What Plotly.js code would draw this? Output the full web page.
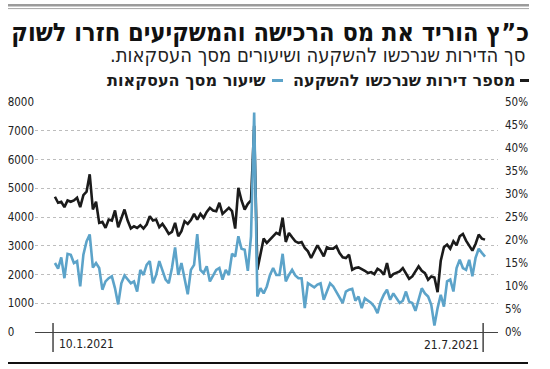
<!DOCTYPE html>
<html><head><meta charset="utf-8">
<script src="https://cdn.plot.ly/plotly-3.0.1.min.js"></script>
<style>html,body{margin:0;padding:0;background:#fff}#chart{width:550px;height:369px}</style>
</head><body><div id="chart"></div>
<script>
const titleText = "כ”ץ הוריד את מס הרכישה והמשקיעים חזרו לשוק";
const subtitleText = "סך הדירות שנרכשו להשקעה ושיעורים מסך העסקאות.\u200F";
const seriesNames = ["מספר דירות שנרכשו להשקעה", "שיעור מסך העסקאות"];
const dateLabels = ["10.1.2021", "21.7.2021"];
const leftTicks = [0, 1000, 2000, 3000, 4000, 5000, 6000, 7000, 8000];
const rightTicks = [0, 5, 10, 15, 20, 25, 30, 35, 40, 45, 50];

// number of apartments bought for investment (left axis)
const apartments = [4704, 4494, 4529, 4343, 4576, 4529, 4576, 4669, 4343, 4762, 4878, 5484, 4261, 4529, 3795, 3830,
  3621, 3912, 3877, 4226, 3644, 3970, 4261, 3877, 3598, 3679, 3621, 3714, 3598, 3737, 4028, 3877, 3912, 3644, 3760,
  3598, 3411, 3481, 3795, 3330, 3505, 3853, 3760, 3895, 4110, 3912, 4110, 3970, 4179, 4319, 4226, 4203, 4494, 4110,
  4226, 4319, 4203, 3598, 5018, 4576, 4261, 4459, 4576, 7172,
  2166, 2700, 3248, 3097, 3213, 3365, 3446, 3388, 3970, 3132, 3446, 3295, 3155, 3097, 3132, 2922, 2806, 2573, 2806,
  3016, 2829, 2631, 2946, 2899, 2899, 2980, 2748, 2596, 2573, 2690, 2166, 2224, 2247, 2201, 2131, 2049, 2084, 2014,
  2201, 2131, 1991, 2398, 1898, 2014, 2049, 2108, 2224, 2014, 1851, 1933, 2108, 2282, 2131, 2049, 1816, 1933, 1898,
  1385, 2480, 2946, 3039, 2899, 3155, 3016, 3330, 3411, 3178, 2980, 2829, 3062, 3388, 3248, 3213];

// share of all transactions, % (right axis)
const share = [15.0, 13.8, 16.2, 11.7, 17.0, 16.8, 15.0, 15.4, 9.9, 16.8, 19.7, 21.2, 14.0, 15.0, 13.9, 9.2, 11.0,
  11.7, 12.1, 9.5, 6.0, 10.6, 12.3, 11.4, 10.6, 11.0, 8.8, 13.5, 12.4, 14.6, 15.4, 10.6, 12.4, 15.4, 13.2, 11.4, 10.6,
  13.9, 18.4, 12.4, 15.0, 11.4, 8.2, 13.5, 14.6, 21.3, 13.5, 12.8, 14.3, 11.0, 12.1, 13.5, 13.9, 11.4, 13.5, 12.4,
  17.0, 16.4, 20.8, 18.1, 17.9, 13.3, 20.8, 47.7,
  7.7, 9.5, 8.4, 9.9, 12.4, 13.9, 12.4, 12.4, 17.0, 11.0, 12.4, 13.5, 12.3, 11.7, 11.7, 5.2, 10.6, 10.1, 9.7, 10.3,
  10.6, 7.0, 8.8, 10.6, 9.9, 8.8, 7.7, 6.3, 8.8, 9.2, 9.4, 6.8, 7.7, 5.2, 7.3, 6.8, 6.3, 5.5, 4.1, 6.6, 8.1, 9.2, 7.0,
  8.4, 7.3, 6.3, 6.8, 8.8, 6.6, 6.3, 4.6, 7.3, 9.5, 8.4, 7.7, 5.9, 1.4, 5.2, 8.1, 5.5, 11.0, 11.4, 8.8, 13.9, 15.7,
  13.9, 13.5, 15.7, 12.1, 16.1, 18.1, 17.2, 16.4];

const FONT = "'DejaVu Sans Condensed', 'Liberation Sans Narrow', Roboto, sans-serif";
const FONT_WIDE = "'DejaVu Sans', 'Liberation Sans', sans-serif";

// pick a font size so that a text fills a given width
const ctx = document.createElement('canvas').getContext('2d');
function fitSize(text, family, weight, target, lo, hi) {
  ctx.font = weight + ' 100px ' + family;
  const s = 100 * target / ctx.measureText(text).width;
  return Math.max(lo, Math.min(hi, s));
}
const titleSize = fitSize(titleText, FONT, 'bold', 518, 20, 30);
const subSize = fitSize(subtitleText, FONT, 'normal', 430, 14, 20);
const leg1Size = fitSize(seriesNames[0], FONT_WIDE, 'bold', 229, 12, 17);
const leg2Size = fitSize(seriesNames[1], FONT_WIDE, 'bold', 154, 12, 17);
const legSize = (leg1Size + leg2Size) / 2;

const N = apartments.length;
const idx = apartments.map((_, i) => i);
const xRange = [-6.3, N - 1 + 4.1];
const tickIdx = [-0.6, N - 1 - 0.6];
const toPaper = v => (v - xRange[0]) / (xRange[1] - xRange[0]);

const traces = [
  {x: idx, y: share, yaxis: 'y2', type: 'scatter', mode: 'lines', name: seriesNames[1],
   line: {color: '#5ca3c9', width: 2.6}, hoverinfo: 'skip'},
  {x: idx, y: apartments, yaxis: 'y', type: 'scatter', mode: 'lines', name: seriesNames[0],
   line: {color: '#1b1b1b', width: 2.6}, hoverinfo: 'skip'}
];

const PX = p => (p - 35) / 463;       // page x -> paper x
const PY = p => (332 - p) / 230;      // page y -> paper y

const shapes = [
  {type: 'line', xref: 'paper', yref: 'paper', x0: PX(8), x1: PX(529), y0: PY(5.2), y1: PY(5.2), line: {color: '#9b9b9b', width: 2.6}},
  {type: 'line', xref: 'paper', yref: 'paper', x0: PX(8), x1: PX(529), y0: PY(8.6), y1: PY(8.6), line: {color: '#a5a5a5', width: 1}},
  {type: 'line', xref: 'paper', yref: 'paper', x0: PX(8), x1: PX(528), y0: PY(363), y1: PY(363), line: {color: '#111', width: 2}},
  {type: 'line', xref: 'paper', yref: 'paper', x0: PX(520), x1: PX(529), y0: PY(80.5), y1: PY(80.5), line: {color: '#1b1b1b', width: 3}},
  {type: 'line', xref: 'paper', yref: 'paper', x0: PX(272), x1: PX(283), y0: PY(80.5), y1: PY(80.5), line: {color: '#5ca3c9', width: 3}}
];
tickIdx.forEach(t => shapes.push({type: 'line', xref: 'paper', yref: 'paper', x0: toPaper(t), x1: toPaper(t),
  y0: PY(323), y1: PY(352), line: {color: '#444', width: 1.5}}));

const annotations = [
  {xref: 'paper', yref: 'paper', x: PX(527), y: PY(55.5), xanchor: 'right', yanchor: 'middle', showarrow: false,
   text: subtitleText, font: {family: FONT, size: subSize, color: '#222'}},
  {xref: 'paper', yref: 'paper', x: PX(517), y: PY(80), xanchor: 'right', yanchor: 'middle', showarrow: false,
   text: '<b>' + seriesNames[0] + '</b>', font: {family: FONT_WIDE, size: legSize, color: '#1b1b1b'}},
  {xref: 'paper', yref: 'paper', x: PX(268), y: PY(80), xanchor: 'right', yanchor: 'middle', showarrow: false,
   text: '<b>' + seriesNames[1] + '</b>', font: {family: FONT_WIDE, size: legSize, color: '#1b1b1b'}},
  {xref: 'x', yref: 'paper', x: tickIdx[0], y: PY(344), xanchor: 'left', yanchor: 'middle', xshift: 4, showarrow: false,
   text: dateLabels[0], font: {family: FONT, size: 12, color: '#222'}},
  {xref: 'x', yref: 'paper', x: tickIdx[1], y: PY(345), xanchor: 'right', yanchor: 'middle', xshift: -2, showarrow: false,
   text: dateLabels[1], font: {family: FONT, size: 12, color: '#222'}}
];

const layout = {
  width: 550, height: 369,
  margin: {l: 35, r: 52, t: 102, b: 37, pad: 0},
  paper_bgcolor: '#fff', plot_bgcolor: '#fff',
  showlegend: false,
  title: {text: '<b>' + titleText + '</b>', xref: 'container', yref: 'container', x: 529 / 550, xanchor: 'right',
          y: 1 - 32.5 / 369, yanchor: 'middle', font: {family: FONT, size: titleSize, color: '#111'}},
  xaxis: {range: xRange, showgrid: false, zeroline: false, showline: true, linecolor: '#444', linewidth: 1,
          showticklabels: false, ticks: '', fixedrange: true},
  yaxis: {range: [0, 8000], tickvals: leftTicks,
          ticktext: leftTicks.map(v => v === 0 ? '0\u2007\u2007\u2007' : String(v)),
          showgrid: true, gridcolor: '#bdbdbd', griddash: 'dot', gridwidth: 1, zeroline: false, showline: false,
          ticks: '', tickfont: {family: FONT, size: 11.5, color: '#222'}, fixedrange: true},
  yaxis2: {range: [0, 50], overlaying: 'y', side: 'right', tickvals: rightTicks, ticktext: rightTicks.map(v => v + '%'),
           showgrid: false, zeroline: false, showline: false, ticks: '', ticklabelstandoff: 6,
           tickfont: {family: FONT, size: 11.5, color: '#222'}, fixedrange: true},
  shapes: shapes, annotations: annotations
};

Plotly.newPlot('chart', traces, layout, {staticPlot: true, displayModeBar: false});
</script>
</body></html>
